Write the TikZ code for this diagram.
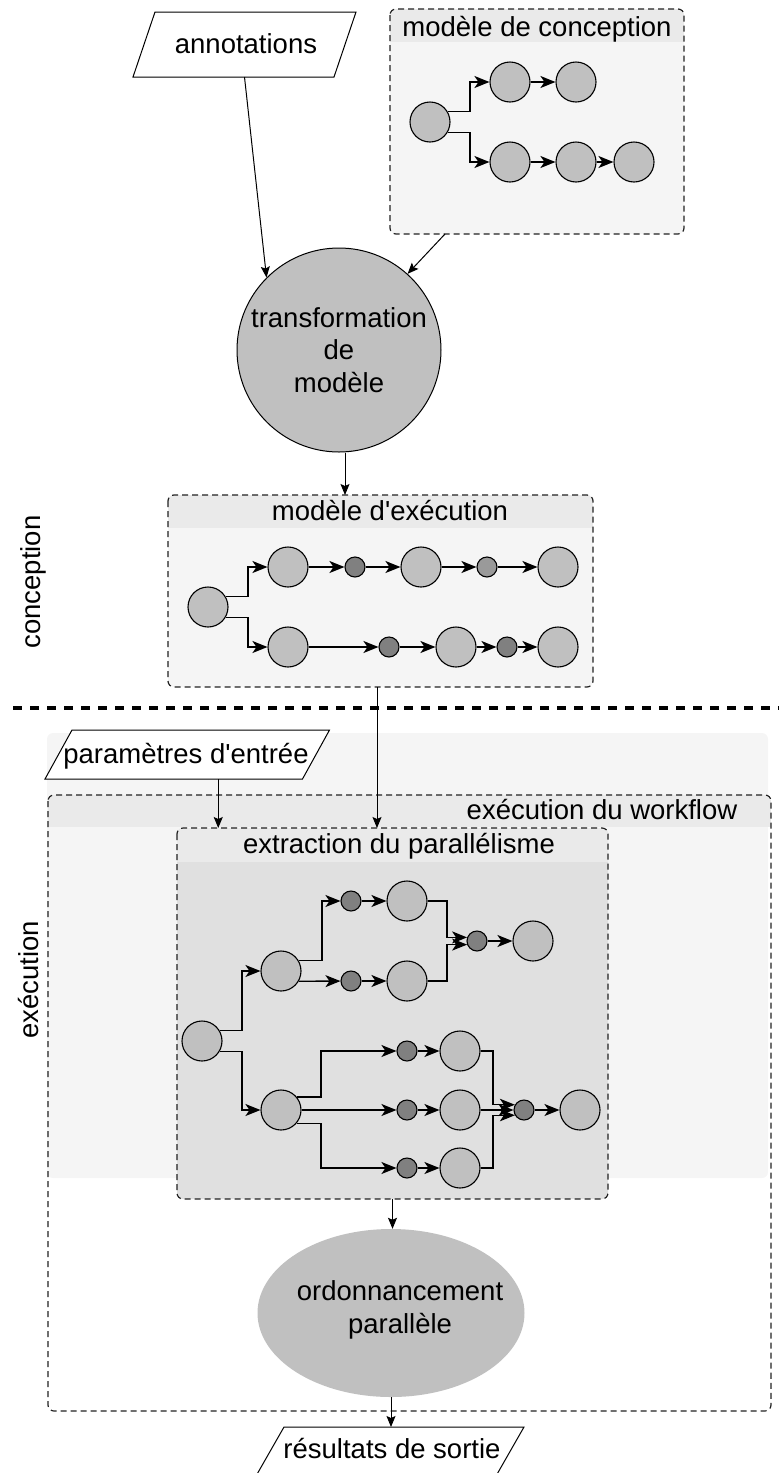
\documentclass[tikz,border=0pt]{standalone}
\usepackage{fontspec}
\setmainfont{Liberation Sans}
\usetikzlibrary{arrows.meta,calc,shapes.geometric}
\definecolor{cg}{HTML}{C0C0C0}
\definecolor{dg}{HTML}{808080}
\definecolor{mg}{HTML}{9A9A9A}
\definecolor{bodyg}{HTML}{F5F5F5}
\definecolor{hdrg}{HTML}{EAEAEA}
\definecolor{extg}{HTML}{E0E0E0}
\definecolor{bordg}{HTML}{222222}
\newcommand\ctrbox[3]{%
  \path[#2,rounded corners=6pt] (#1.north west) rectangle (#1.south east);
  \begin{scope}
    \clip[rounded corners=6pt] (#1.north west) rectangle (#1.south east);
    \fill[hdrg] (#1.north west) rectangle ([yshift=-#3]#1.north east);
  \end{scope}
  \draw[ctr] (#1.north west) rectangle (#1.south east);}
\newcommand\pgram[2]{%
  \draw[fill=white,line width=1pt] ([xshift=#2]#1.north west) -- ([xshift=#2]#1.north east)
    -- ([xshift=-#2]#1.south east) -- ([xshift=-#2]#1.south west) -- cycle;}
\begin{document}
\begin{tikzpicture}[x=1pt,y=-1pt,
  txt/.style={font=\fontsize{27.5pt}{32.5pt}\selectfont},
  big/.style={circle,draw,fill=cg,minimum size=40pt,inner sep=0pt,line width=1.1pt},
  sml/.style={circle,draw,fill=dg,minimum size=20pt,inner sep=0pt,line width=1.1pt},
  arr/.style={-{Stealth[length=15pt,width=12pt,inset=4pt]},line width=1.4pt},
  conn/.style={-{Stealth[length=11pt,width=9pt,inset=2pt]},line width=1pt},
  ctr/.style={draw=bordg,dash pattern=on 6pt off 4pt,line width=1.2pt,rounded corners=6pt},
  boxn/.style={inner sep=0pt,outer sep=0pt},
  ]
\useasboundingbox (0,0) rectangle (779,1473);

% ---------- lane background ----------
\fill[bodyg,rounded corners=6pt] (47,733) rectangle (768,1178);

% ---------- containers ----------
\node[boxn,minimum width=294pt,minimum height=225pt] (mdc) at (537,121.5) {};
\ctrbox{mdc}{fill=bodyg}{33pt}
\node[txt] (mdct) at (537,29) {modèle de conception};

\node[boxn,minimum width=425pt,minimum height=192pt] (exe) at (380.5,591) {};
\ctrbox{exe}{fill=bodyg}{33pt}
\node[txt] (exet) at (390,511) {modèle d\textquotesingle exécution};

\node[boxn,minimum width=723pt,minimum height=616pt] (wf) at (409.5,1103) {};
\ctrbox{wf}{fill=none}{32pt}
\node[txt] (wft) at (602,809) {exécution du workflow};

\node[boxn,minimum width=431pt,minimum height=371pt] (ext) at (392.5,1013.5) {};
\ctrbox{ext}{fill=extg}{34pt}
\node[txt] (extt) at (399,846) {extraction du parallélisme};

% ---------- lane labels and separator ----------
\node[txt,rotate=90] (lconc) at (33,582) {conception};
\node[txt,rotate=90] (lexec) at (29,980) {exécution};
\draw[line width=3.5pt,dash pattern=on 9pt off 8pt] (13,708) -- (779,708);

% ---------- parallelograms ----------
\node[boxn,minimum width=201pt,minimum height=65pt] (ann) at (244.5,44.5) {};
\pgram{ann}{11pt}
\node[txt] (annt) at (246,44) {annotations};

\node[boxn,minimum width=257.5pt,minimum height=49pt] (param) at (187.25,754.5) {};
\pgram{param}{13.5pt}
\node[txt] (paramt) at (186,756) {paramètres d\textquotesingle entrée};

\node[boxn,minimum width=240pt,minimum height=49pt] (res) at (390,1451.5) {};
\pgram{res}{14pt}
\node[txt] (rest) at (392,1448) {résultats de sortie};

% ---------- process shapes ----------
\node[circle,draw,fill=cg,minimum size=204pt,inner sep=0pt,line width=1pt,txt,align=center]
  (trans) at (339,350) {transformation\\de\\modèle};
\node[ellipse,fill=cg,minimum width=267pt,minimum height=168pt,inner sep=0pt] (ord) at (391,1313) {};
\node[txt,align=center] (ordt) at (400,1310) {ordonnancement\\parallèle};

% ---------- connectors between blocks ----------
\draw[conn] (ann.south) -- (trans.135);
\draw[conn] ([xshift=-92pt]mdc.south) -- (trans.48);
\coordinate (a1) at ([xshift=6pt]trans.south);
\draw[conn] (a1) -- (a1 |- exe.north);
\coordinate (a2) at ([xshift=-3.5pt]exe.south);
\draw[conn] (a2) -- (a2 |- ext.north);
\coordinate (a3) at ([xshift=31pt]param.south);
\draw[conn] (a3) -- (a3 |- ext.north);
\draw[conn] (ext.south) -- (ext.south |- ord.north);
\draw[conn] (ord.south) -- (ord.south |- res.north);

% ---------- graph: modele de conception ----------
\node[big] (m0) at (430,122) {};
\node[big] (m1) at (510,82) {};
\node[big] (m2) at (576,82) {};
\node[big] (m3) at (510,162) {};
\node[big] (m4) at (576,162) {};
\node[big] (m5) at (634,162) {};
\draw[arr] (m0.30) -| (470,82) -- (m1);
\draw[arr] (m0.-30) -| (470,162) -- (m3);
\draw[arr] (m1) -- (m2);
\draw[arr] (m3) -- (m4);
\draw[arr] (m4) -- (m5);

% ---------- graph: modele d'execution ----------
\node[big] (e0) at (208,607) {};
\node[big] (e1) at (288,567) {};
\node[sml] (es1) at (355,567) {};
\node[big] (e2) at (421,567) {};
\node[sml,fill=mg] (es2) at (487,567) {};
\node[big] (e3) at (558,567) {};
\node[big] (e4) at (288,647) {};
\node[sml] (es3) at (389,647) {};
\node[big] (e5) at (456,647) {};
\node[sml] (es4) at (507,647) {};
\node[big] (e6) at (558,647) {};
\draw[arr] (e0.30) -| (248,567) -- (e1);
\draw[arr] (e0.-30) -| (248,647) -- (e4);
\draw[arr] (e1) -- (es1);
\draw[arr] (es1) -- (e2);
\draw[arr] (e2) -- (es2);
\draw[arr] (es2) -- (e3);
\draw[arr] (e4) -- (es3);
\draw[arr] (es3) -- (e5);
\draw[arr] (e5) -- (es4);
\draw[arr] (es4) -- (e6);

% ---------- graph: extraction du parallelisme ----------
\node[big] (x0) at (202,1041) {};
\node[big] (xb) at (281,971) {};
\node[sml] (s1) at (351,901) {};
\node[big] (b1) at (407,901) {};
\node[sml] (s2) at (351,981) {};
\node[big] (b2) at (407,981) {};
\node[sml] (sm) at (477,941) {};
\node[big] (bf) at (533,941) {};
\node[big] (xc) at (281,1110) {};
\node[sml] (t1) at (407,1051) {};
\node[big] (u1) at (460,1051) {};
\node[sml] (t2) at (407,1110) {};
\node[big] (u2) at (460,1110) {};
\node[sml] (t3) at (407,1168) {};
\node[big] (u3) at (460,1168) {};
\node[sml] (sm2) at (524,1110) {};
\node[big] (bf2) at (580,1110) {};
\draw[arr] (x0.30) -| (242,971) -- (xb);
\draw[arr] (x0.-30) -| (242,1110) -- (xc);
\draw[arr] (xb.30) -| (322,901) -- (s1);
\draw[arr] (xb.-30) -- (s2);
\draw[arr] (s1) -- (b1);
\draw[arr] (s2) -- (b2);
\draw[arr] (b1.east) -- (447,901) |- (sm.160);
\draw[arr] (b2.east) -- (447,981) |- (sm.200);
\draw[arr] (sm) -- (bf);
\draw[arr] (xc.40) -| (321,1051) -- (t1);
\draw[arr] (xc.east) -- (t2);
\draw[arr] (xc.-40) -| (321,1168) -- (t3);
\draw[arr] (t1) -- (u1);
\draw[arr] (t2) -- (u2);
\draw[arr] (t3) -- (u3);
\draw[arr] (u1.east) -- (493,1051) |- (sm2.150);
\draw[arr] (u2.east) -- (sm2);
\draw[arr] (u3.east) -- (493,1168) |- (sm2.210);
\draw[arr] (sm2) -- (bf2);
\end{tikzpicture}
\end{document}
